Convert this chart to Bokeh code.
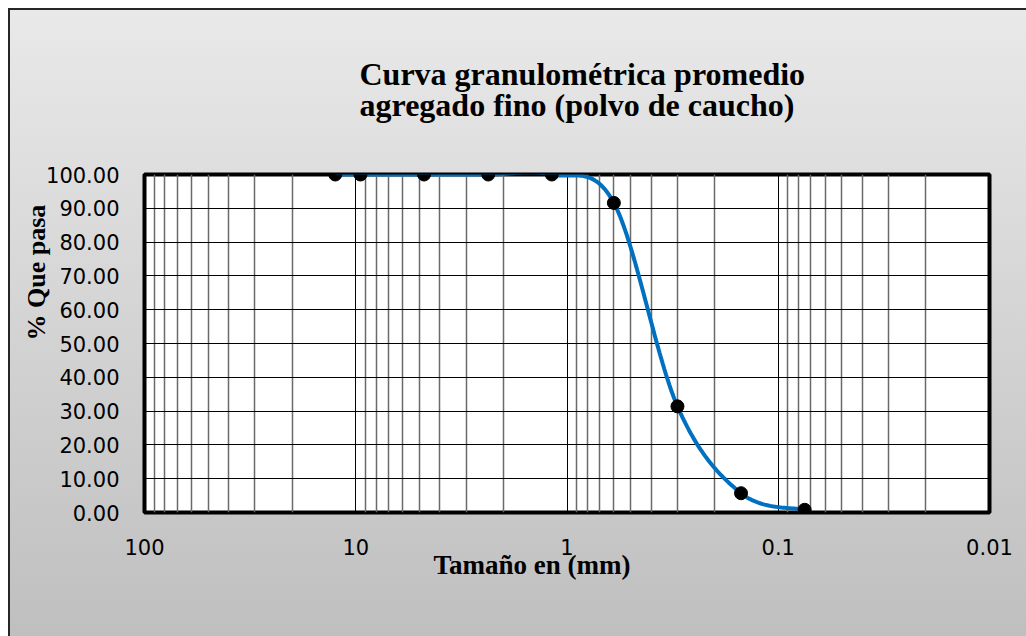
import numpy as np
from bokeh.plotting import figure
from bokeh.models import Range1d, FixedTicker, PrintfTickFormatter, CustomJSTickFormatter, Title
from bokeh.embed import file_html
from bokeh.resources import INLINE

# ---------------- data ----------------
title_lines = ["Curva granulométrica promedio", "agregado fino (polvo de caucho)"]
x_title = "Tamaño en (mm)"
y_title = "% Que pasa"
abertura_mm = [12.5, 9.5, 4.75, 2.36, 1.18, 0.6, 0.3, 0.15, 0.075]
pasa_pct = [100.0, 100.0, 100.0, 100.0, 100.0, 91.6, 31.4, 5.7, 0.8]
x_ticks = [100, 10, 1, 0.1, 0.01]
y_ticks = [0, 10, 20, 30, 40, 50, 60, 70, 80, 90, 100]

# ---------------- figure ----------------
W, H = 1018, 628
p = figure(width=W, height=H, x_axis_type="log",
           x_range=Range1d(100, 0.01), y_range=Range1d(0, 100),
           output_backend="svg", toolbar_location=None,
           min_border_left=136, min_border_right=37,
           min_border_top=166, min_border_bottom=124)
p.border_fill_color = None
p.background_fill_color = "white"
p.outline_line_color = "black"
p.outline_line_width = 4
p.styles = {
    "margin": "8px 0 0 8px",
    "background": "linear-gradient(180deg, #e9e9e9 0%, #bfbfbf 100%)",
    "box-shadow": "inset 2px 2px 0 0 #262626",
}

minor = [m * 10.0 ** k for k in range(-2, 2) for m in range(2, 10)]
p.xaxis.ticker = FixedTicker(ticks=x_ticks, minor_ticks=minor)
p.xaxis.formatter = CustomJSTickFormatter(code="return tick.toString();")
p.yaxis.ticker = FixedTicker(ticks=y_ticks)
p.yaxis.formatter = PrintfTickFormatter(format="%.2f")

for ax in (p.xaxis, p.yaxis):
    ax.axis_line_color = None
    ax.major_tick_line_color = None
    ax.minor_tick_line_color = None
    ax.major_label_text_font = "DejaVu Sans"
    ax.major_label_text_font_size = "21px"
    ax.major_label_text_color = "black"
p.xaxis.major_label_standoff = 20
p.yaxis.major_label_standoff = 19

p.xgrid.grid_line_color = "black"
p.xgrid.grid_line_width = 1
p.xgrid.minor_grid_line_color = "#6a6a6a"
p.xgrid.minor_grid_line_width = 1.5
p.ygrid.grid_line_color = "black"
p.ygrid.grid_line_width = 1

# smoothed curve (Excel-like Bezier smoothing in screen proportional space)
kx, ky = 211.25, 3.38
pts = np.column_stack([np.log10(abertura_mm) * kx, np.array(pasa_pct) * ky])
P = np.vstack([pts[0], pts, pts[-1]])
segs = []
t = np.linspace(0, 1, 40)[:, None]
for i in range(1, len(P) - 2):
    p0, p1, p2, p3 = P[i - 1], P[i], P[i + 1], P[i + 2]
    c1 = p1 + (p2 - p0) / 6
    c2 = p2 - (p3 - p1) / 6
    seg = (1 - t) ** 3 * p1 + 3 * (1 - t) ** 2 * t * c1 + 3 * (1 - t) * t ** 2 * c2 + t ** 3 * p2
    segs.append(seg if i == 1 else seg[1:])
curve = np.vstack(segs)
p.line(10 ** (curve[:, 0] / kx), curve[:, 1] / ky, line_color="#0070C0", line_width=4)
p.scatter(abertura_mm, pasa_pct, size=13, fill_color="black", line_color="black")

serif = "Liberation Serif"
# small empty spacer panel right above the frame, then the two-line title
p.add_layout(Title(text=" ", align="left", standoff=-5,
                   text_font=serif, text_font_size="10px"), "above")
p.add_layout(Title(text="\n".join(title_lines), align="left", offset=215,
                   standoff=87, text_line_height=0.85,
                   text_font=serif, text_font_style="bold", text_font_size="32px",
                   text_color="black"), "above")
p.add_layout(Title(text=x_title, align="left", offset=289, standoff=-20,
                   text_font=serif, text_font_style="bold", text_font_size="27px",
                   text_color="black"), "below")
p.add_layout(Title(text=y_title, align="left", offset=172, standoff=-14,
                   text_font=serif, text_font_style="bold", text_font_size="26px",
                   text_color="black"), "left")

open("out.html", "w").write(file_html(p, INLINE))
